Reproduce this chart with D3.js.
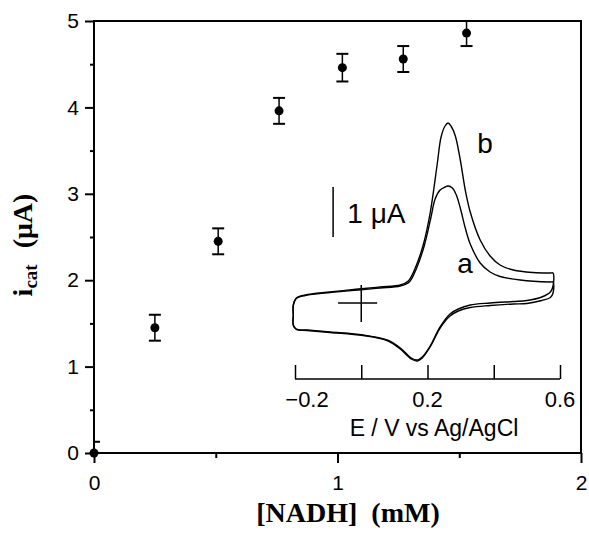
<!DOCTYPE html>
<html>
<head>
<meta charset="utf-8">
<script src="https://cdn.jsdelivr.net/npm/d3@7"></script>
<style>
  body { margin: 0; background: #fff; }
  svg { display: block; }
</style>
</head>
<body>
<div class="chart"></div>
<script>
// main plot data: [NADH] (mM) vs catalytic current (uA)
const nadh = [0, 0.25, 0.51, 0.76, 1.02, 1.27, 1.53];
const icat = [0, 1.45, 2.45, 3.96, 4.46, 4.56, 4.86];
const icatErr = [0.13, 0.15, 0.15, 0.15, 0.16, 0.15, 0.15];

const xTicks = [0, 1, 2];
const xMinor = [0.5, 1.5];
const yTicks = [0, 1, 2, 3, 4, 5];
const yMinor = [0.5, 1.5, 2.5, 3.5, 4.5];

// inset cyclic voltammograms, [E (V), I (uA)]
const cvB = [
  [-0.205, -0.24], [-0.205, -0.04], [-0.196, 0.10], [-0.169, 0.16], [-0.094, 0.22],
  [-0.009, 0.28], [0.057, 0.32], [0.118, 0.36], [0.142, 0.44], [0.163, 0.70],
  [0.187, 1.16], [0.208, 1.80], [0.229, 2.76], [0.241, 3.32], [0.253, 3.54],
  [0.262, 3.60], [0.271, 3.54], [0.284, 3.34], [0.299, 2.86], [0.314, 2.26],
  [0.329, 1.82], [0.359, 1.26], [0.389, 0.94], [0.419, 0.76], [0.459, 0.66],
  [0.519, 0.61], [0.570, 0.60], [0.579, 0.60], [0.579, 0.34], [0.571, 0.22],
  [0.545, 0.12], [0.500, 0.05], [0.459, 0.03], [0.389, 0.00], [0.329, -0.04],
  [0.293, -0.12], [0.268, -0.22], [0.238, -0.48], [0.208, -0.86], [0.184, -1.08],
  [0.169, -1.14], [0.151, -1.10], [0.118, -0.90], [0.078, -0.74], [0.006, -0.64],
  [-0.094, -0.58], [-0.163, -0.54], [-0.196, -0.52], [-0.205, -0.44], [-0.205, -0.24]
];
const cvA = [
  [-0.205, -0.24], [-0.205, -0.04], [-0.196, 0.09], [-0.169, 0.15], [-0.094, 0.21],
  [-0.009, 0.26], [0.057, 0.30], [0.118, 0.34], [0.145, 0.42], [0.166, 0.68],
  [0.190, 1.14], [0.210, 1.70], [0.223, 2.08], [0.238, 2.26], [0.253, 2.32],
  [0.262, 2.34], [0.275, 2.30], [0.287, 2.16], [0.299, 1.90], [0.314, 1.50],
  [0.329, 1.18], [0.359, 0.80], [0.389, 0.62], [0.419, 0.53], [0.480, 0.46],
  [0.570, 0.42], [0.579, 0.42], [0.579, 0.20], [0.571, 0.11], [0.545, 0.05],
  [0.500, -0.01], [0.459, -0.02], [0.389, -0.05], [0.329, -0.09], [0.293, -0.16],
  [0.268, -0.26], [0.238, -0.50], [0.208, -0.88], [0.184, -1.10], [0.169, -1.16],
  [0.151, -1.12], [0.118, -0.92], [0.078, -0.75], [0.006, -0.65], [-0.094, -0.59],
  [-0.163, -0.55], [-0.196, -0.53], [-0.205, -0.45], [-0.205, -0.24]
];
const cvTicks = [-0.2, 0, 0.2, 0.4, 0.6];
const cvLabels = [-0.2, 0.2, 0.6];

const width = 589, height = 533;
const margin = ({top: 21, right: 8, bottom: 80, left: 94});
const w = width - margin.left - margin.right;
const h = height - margin.top - margin.bottom;

const svg = d3.select(".chart")
  .append("svg")
  .attr("width", width)
  .attr("height", height);

const sans = "'Liberation Sans', Arial, Helvetica, sans-serif";
const serif = "'Liberation Serif', 'Times New Roman', serif";

const g = svg.append("g")
  .attr("transform", `translate(${margin.left},${margin.top})`);

const x = d3.scaleLinear().domain([0, 2]).range([0, w]);
const y = d3.scaleLinear().domain([0, 5]).range([h, 0]);

// ticks
function styleAxis(sel) {
  sel.select(".domain").remove();
  sel.selectAll(".tick line").attr("stroke", "#000").attr("stroke-width", 2);
  sel.selectAll("text").attr("font-family", sans).attr("font-size", 21).attr("fill", "#000");
}

g.append("g")
  .attr("transform", `translate(0,${h})`)
  .call(d3.axisBottom(x).tickValues(xTicks).tickSize(10).tickPadding(12).tickFormat(d3.format("d")))
  .call(styleAxis);
g.append("g")
  .attr("transform", `translate(0,${h})`)
  .call(d3.axisBottom(x).tickValues(xMinor).tickSize(5).tickFormat(""))
  .call(styleAxis);
g.append("g")
  .call(d3.axisLeft(y).tickValues(yTicks).tickSize(9).tickPadding(6).tickFormat(d3.format("d")))
  .call(styleAxis);
g.append("g")
  .call(d3.axisLeft(y).tickValues(yMinor).tickSize(4).tickFormat(""))
  .call(styleAxis);

// frame
g.append("rect")
  .attr("width", w).attr("height", h)
  .attr("fill", "none")
  .attr("stroke", "#000")
  .attr("stroke-width", 2);

// error bars (clipped to plot area)
g.append("clipPath").attr("id", "clip")
  .append("rect").attr("width", w).attr("height", h);

const pts = nadh.map((d, i) => ({x: d, y: icat[i], e: icatErr[i]}));
const eb = g.append("g").attr("clip-path", "url(#clip)")
  .selectAll("g").data(pts).join("g")
  .attr("stroke", "#000");
eb.append("line")
  .attr("x1", d => x(d.x)).attr("x2", d => x(d.x))
  .attr("y1", d => y(d.y + d.e)).attr("y2", d => y(d.y - d.e))
  .attr("stroke-width", 1.5);
eb.append("line")
  .attr("x1", d => x(d.x) - 6).attr("x2", d => x(d.x) + 6)
  .attr("y1", d => y(d.y + d.e)).attr("y2", d => y(d.y + d.e))
  .attr("stroke-width", 2);
eb.append("line")
  .attr("x1", d => x(d.x) - 6).attr("x2", d => x(d.x) + 6)
  .attr("y1", d => y(d.y - d.e)).attr("y2", d => y(d.y - d.e))
  .attr("stroke-width", 2);

g.selectAll("circle.pt").data(pts).join("circle")
  .attr("class", "pt")
  .attr("cx", d => x(d.x)).attr("cy", d => y(d.y))
  .attr("r", 4.5)
  .attr("fill", "#000");

// axis titles
svg.append("text")
  .attr("x", 348)
  .attr("y", 522)
  .attr("text-anchor", "middle")
  .attr("font-family", serif)
  .attr("font-weight", "bold")
  .attr("font-size", 28)
  .attr("xml:space", "preserve")
  .text("[NADH]  (mM)");

const yt = svg.append("text")
  .attr("transform", `translate(32,245) rotate(-90)`)
  .attr("text-anchor", "middle")
  .attr("font-family", serif)
  .attr("font-weight", "bold")
  .attr("font-size", 28);
yt.append("tspan").text("i");
yt.append("tspan").attr("font-size", 19).attr("dy", 5).text("cat");
yt.append("tspan").attr("dy", -5).attr("dx", 16).text("(μA)");

// inset
const xi = d3.scaleLinear().domain([-0.2, 0.6]).range([295, 560]);
const yi = d3.scaleLinear().domain([0, 1]).range([303, 253]);
const inset = svg.append("g");

const cvLine = d3.line().x(d => xi(d[0])).y(d => yi(d[1])).curve(d3.curveCatmullRom.alpha(0.5));
[cvA, cvB].forEach(c => {
  inset.append("path")
    .datum(c)
    .attr("fill", "none")
    .attr("stroke", "#000")
    .attr("stroke-width", 1.4)
    .attr("stroke-linejoin", "round")
    .attr("d", cvLine);
});

// origin cross
inset.append("line")
  .attr("x1", xi(-0.07)).attr("x2", xi(0.048))
  .attr("y1", yi(0)).attr("y2", yi(0))
  .attr("stroke", "#000").attr("stroke-width", 1.5);
inset.append("line")
  .attr("x1", xi(0)).attr("x2", xi(0))
  .attr("y1", yi(0.36)).attr("y2", yi(-0.38))
  .attr("stroke", "#000").attr("stroke-width", 1.5);

// 1 uA scale bar
inset.append("line")
  .attr("x1", xi(-0.085)).attr("x2", xi(-0.085))
  .attr("y1", yi(2.32)).attr("y2", yi(1.32))
  .attr("stroke", "#000").attr("stroke-width", 1.5);
inset.append("text")
  .attr("x", xi(-0.042)).attr("y", yi(1.6))
  .attr("font-family", sans).attr("font-size", 28)
  .text("1 μA");

// curve labels
inset.append("text")
  .attr("x", xi(0.35)).attr("y", yi(3.0))
  .attr("font-family", sans).attr("font-size", 28)
  .text("b");
inset.append("text")
  .attr("x", xi(0.29)).attr("y", yi(0.6))
  .attr("font-family", sans).attr("font-size", 28)
  .text("a");

// inset E axis
const axY = 379;
const ia = inset.append("g")
  .attr("transform", `translate(0,${axY})`)
  .call(d3.axisBottom(xi).tickValues(cvTicks).tickSize(-14).tickFormat(""));
ia.select(".domain").attr("d", `M${xi(-0.2)},0H${xi(0.6)}`).attr("stroke-width", 1.5);
ia.selectAll(".tick line").attr("stroke-width", 1.5);

inset.selectAll("text.cvl").data(cvLabels).join("text")
  .attr("class", "cvl")
  .attr("x", d => xi(d))
  .attr("dx", d => d < 0 ? 12 : 0)
  .attr("y", axY + 28)
  .attr("text-anchor", "middle")
  .attr("font-family", sans).attr("font-size", 22)
  .text(d => d3.format(".1f")(d).replace("-", "\u2013"));

inset.append("text")
  .attr("x", 434)
  .attr("y", 436)
  .attr("text-anchor", "middle")
  .attr("font-family", sans).attr("font-size", 23)
  .text("E / V vs Ag/AgCl");
</script>
</body>
</html>
